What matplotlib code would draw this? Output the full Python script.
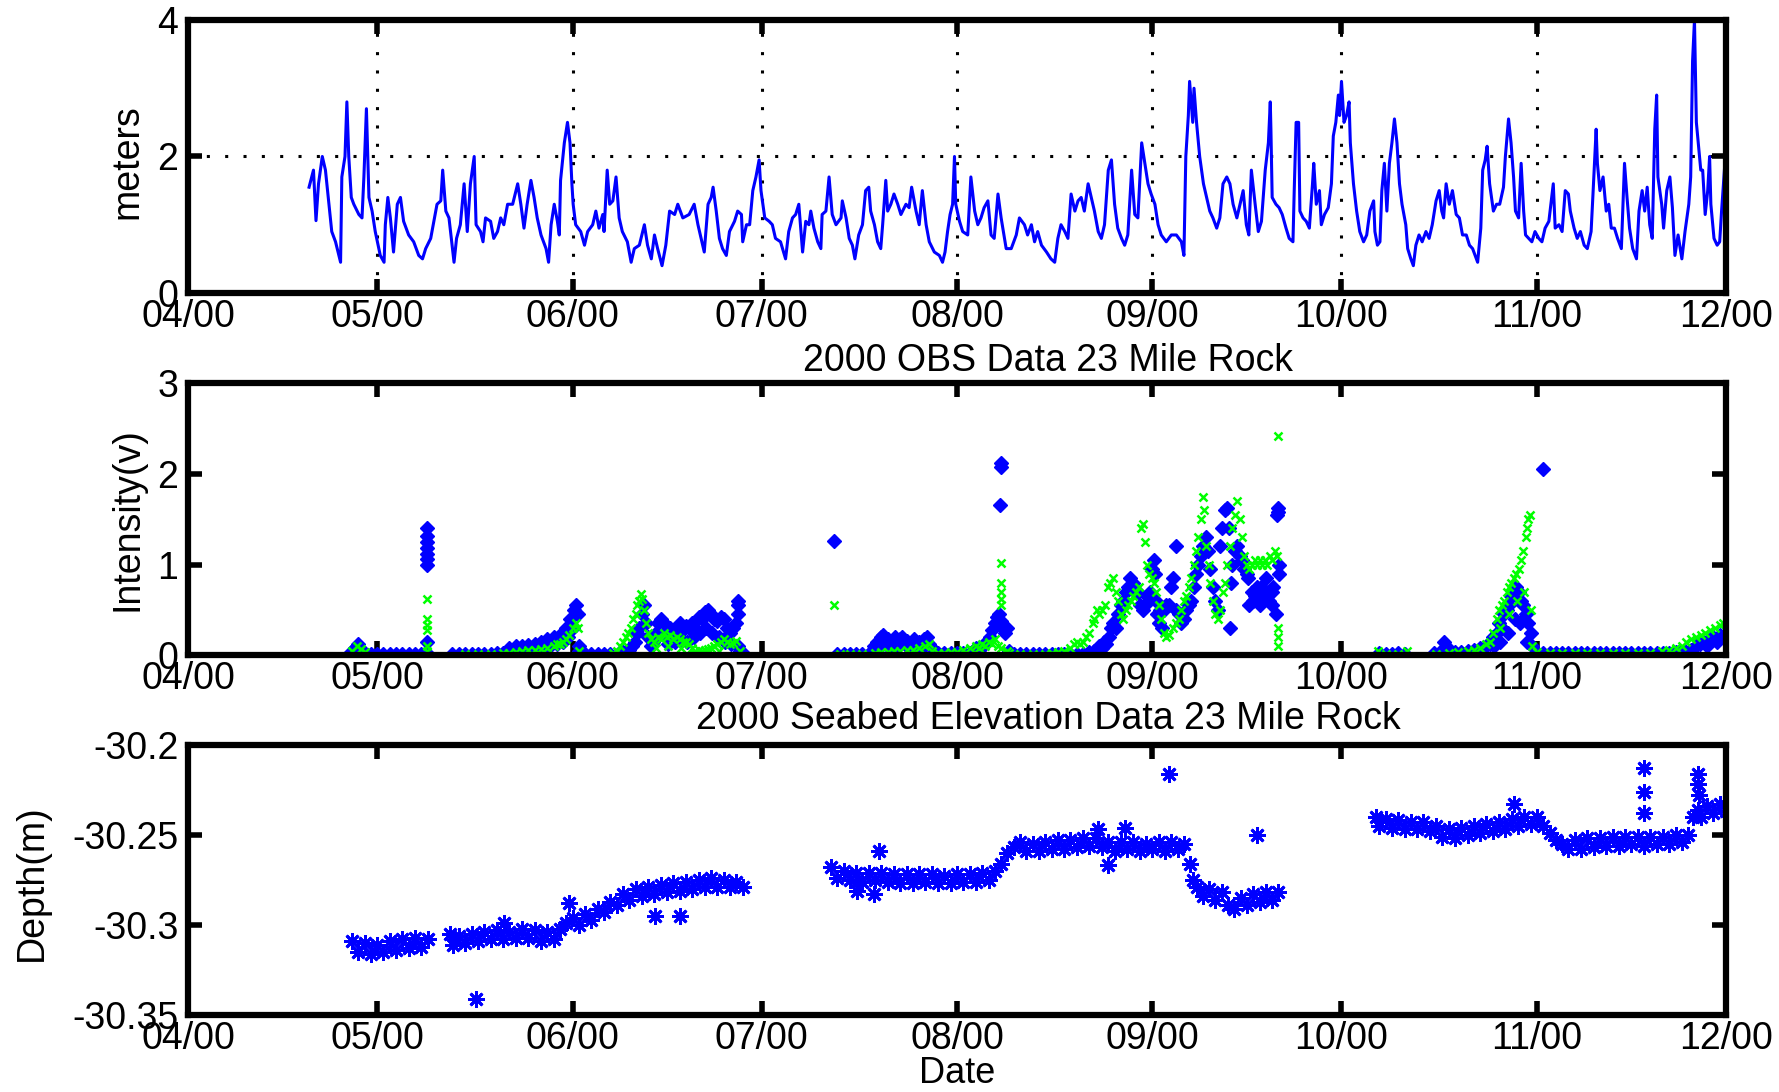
import numpy as np
import matplotlib
matplotlib.use('Agg')
import matplotlib.pyplot as plt

plt.rcParams['font.family'] = ['Liberation Sans', 'DejaVu Sans']

# x axis: days since 1 Apr 2000, ticks on the first of each month
month_days = [0, 30, 61, 91, 122, 153, 183, 214, 244]
month_labels = ['04/00', '05/00', '06/00', '07/00', '08/00', '09/00', '10/00', '11/00', '12/00']

# wave height (day, meters)
wave = np.array([
    (19.2, 1.55), (19.9, 1.8), (20.3, 1.06), (20.7, 1.6), (21.3, 2.0), (21.8, 1.8), (22.3, 1.35), (22.8, 0.9),
    (23.4, 0.75), (23.8, 0.6), (24.2, 0.45), (24.4, 1.7), (24.9, 2.0), (25.2, 2.8), (25.5, 2.0), (25.9, 1.4),
    (26.3, 1.3), (27.1, 1.15), (27.6, 1.1), (27.9, 1.7), (28.3, 2.7), (28.7, 1.4), (29.2, 1.2), (29.7, 0.9),
    (30.5, 0.55), (31.1, 0.45), (31.3, 1.0), (31.7, 1.4), (32.1, 1.1), (32.6, 0.6), (33.2, 1.3), (33.7, 1.4),
    (34.2, 1.05), (35.0, 0.85), (35.8, 0.75), (36.6, 0.55), (37.2, 0.5), (37.7, 0.65), (38.5, 0.8), (39.0, 1.05),
    (39.5, 1.3), (40.1, 1.35), (40.4, 1.8), (40.9, 1.2), (41.4, 1.1), (41.9, 0.7), (42.2, 0.45), (42.6, 0.8),
    (43.2, 1.0), (43.8, 1.6), (44.3, 0.9), (44.8, 1.6), (45.4, 2.0), (45.7, 1.0), (46.4, 0.9), (46.8, 0.75),
    (47.2, 1.1), (48.0, 1.05), (48.5, 0.8), (49.1, 0.9), (49.6, 1.1), (50.1, 1.0), (50.7, 1.3), (51.5, 1.3),
    (52.3, 1.6), (52.8, 1.3), (53.3, 0.95), (53.8, 1.3), (54.4, 1.65), (54.9, 1.4), (55.4, 1.1), (56.0, 0.85),
    (56.8, 0.65), (57.2, 0.45), (57.6, 1.0), (58.1, 1.3), (58.6, 1.05), (58.9, 0.85), (59.1, 1.65), (59.7, 2.2),
    (60.2, 2.5), (60.6, 2.2), (60.9, 1.6), (61.1, 1.3), (61.5, 1.0), (62.3, 0.9), (62.9, 0.7), (63.4, 0.9),
    (64.2, 1.0), (64.7, 1.2), (65.2, 0.95), (65.8, 1.15), (66.0, 0.9), (66.5, 1.8), (66.9, 1.3), (67.4, 1.35),
    (67.9, 1.7), (68.4, 1.1), (68.9, 0.9), (69.7, 0.75), (70.3, 0.45), (70.8, 0.65), (71.6, 0.7), (72.4, 1.0),
    (72.9, 0.7), (73.5, 0.5), (74.0, 0.85), (74.5, 0.65), (75.2, 0.4), (75.8, 0.7), (76.4, 1.2), (77.2, 1.15),
    (77.7, 1.3), (78.5, 1.1), (79.5, 1.15), (80.3, 1.3), (80.9, 1.0), (81.4, 0.8), (81.9, 0.6), (82.5, 1.3),
    (83.0, 1.4), (83.3, 1.55), (83.8, 1.2), (84.3, 0.8), (84.8, 0.65), (85.4, 0.55), (85.9, 0.9), (86.7, 1.05),
    (87.2, 1.2), (87.8, 1.15), (88.0, 0.75), (88.6, 1.0), (89.1, 1.0), (89.6, 1.5), (90.1, 1.7), (90.6, 1.95),
    (90.9, 1.5), (91.5, 1.1), (92.2, 1.05), (92.7, 1.0), (93.2, 0.8), (94.0, 0.75), (94.8, 0.5), (95.3, 0.9),
    (95.9, 1.1), (96.4, 1.15), (96.9, 1.3), (97.5, 0.6), (98.0, 1.05), (98.5, 1.0), (98.8, 1.2), (99.3, 0.95),
    (99.9, 0.75), (100.4, 0.65), (100.6, 1.15), (101.2, 1.2), (101.7, 1.7), (102.2, 1.15), (102.8, 1.0), (103.6, 1.1),
    (103.8, 1.35), (104.4, 1.1), (104.9, 0.8), (105.4, 0.7), (105.8, 0.5), (106.4, 0.85), (107.0, 1.0), (107.5, 1.5),
    (108.0, 1.55), (108.3, 1.2), (108.9, 1.0), (109.4, 0.75), (109.9, 0.65), (110.2, 1.0), (110.7, 1.65), (111.0, 1.2),
    (111.5, 1.3), (112.0, 1.45), (112.6, 1.3), (113.1, 1.15), (113.9, 1.3), (114.4, 1.25), (114.8, 1.55), (115.5, 1.2),
    (116.0, 1.0), (116.5, 1.5), (117.1, 1.0), (117.6, 0.75), (118.4, 0.6), (119.2, 0.55), (119.7, 0.45), (120.1, 0.6),
    (120.5, 0.9), (120.9, 1.15), (121.3, 1.3), (121.6, 2.0), (121.8, 1.3), (122.4, 1.05), (122.9, 0.9), (123.7, 0.85),
    (124.2, 1.7), (124.8, 1.2), (125.3, 1.0), (125.8, 1.1), (126.3, 1.25), (126.9, 1.35), (127.4, 0.85), (127.9, 0.8),
    (128.5, 1.45), (129.0, 1.1), (129.8, 0.65), (130.6, 0.65), (131.4, 0.85), (131.9, 1.1), (132.7, 1.0), (133.2, 0.85),
    (133.8, 1.0), (134.3, 0.75), (134.8, 0.9), (135.4, 0.7), (136.2, 0.6), (136.9, 0.5), (137.5, 0.45), (138.0, 0.8),
    (138.5, 1.0), (139.1, 0.9), (139.6, 0.8), (140.1, 1.45), (140.7, 1.2), (141.2, 1.35), (141.7, 1.4), (142.2, 1.2),
    (142.8, 1.6), (143.3, 1.4), (143.8, 1.2), (144.4, 0.9), (144.9, 0.8), (145.4, 1.0), (146.0, 1.8), (146.5, 1.95),
    (147.0, 1.3), (147.5, 0.95), (148.1, 0.8), (148.6, 0.7), (149.1, 0.85), (149.7, 1.8), (150.2, 1.15), (150.7, 1.1),
    (151.3, 2.2), (151.8, 1.9), (152.3, 1.6), (152.8, 1.45), (153.4, 1.3), (153.9, 1.0), (154.4, 0.85), (155.2, 0.75),
    (156.0, 0.85), (156.8, 0.85), (157.6, 0.75), (158.0, 0.55), (158.3, 2.0), (158.7, 2.6), (158.9, 3.1), (159.4, 2.5),
    (159.6, 3.0), (160.0, 2.5), (160.5, 2.0), (161.1, 1.6), (161.6, 1.4), (162.1, 1.2), (162.6, 1.1), (163.2, 0.95),
    (163.7, 1.1), (164.2, 1.6), (164.8, 1.7), (165.3, 1.6), (165.8, 1.3), (166.4, 1.1), (166.9, 1.3), (167.4, 1.5),
    (167.9, 1.0), (168.3, 0.85), (168.7, 1.8), (169.3, 1.3), (169.8, 0.9), (170.3, 1.05), (170.9, 1.8), (171.4, 2.2),
    (171.7, 2.8), (171.8, 2.4), (172.0, 1.4), (172.6, 1.3), (173.1, 1.25), (173.6, 1.15), (174.2, 0.95), (174.7, 0.8),
    (175.3, 0.75), (175.5, 1.5), (175.8, 2.5), (176.2, 2.5), (176.4, 1.2), (176.9, 1.1), (177.4, 1.05), (177.9, 0.95),
    (178.4, 1.6), (178.6, 1.9), (179.0, 1.3), (179.5, 1.5), (179.8, 1.0), (180.3, 1.15), (180.9, 1.25), (181.4, 1.6),
    (181.7, 2.3), (182.1, 2.5), (182.5, 2.9), (182.7, 2.6), (183.0, 3.1), (183.4, 2.5), (183.8, 2.6), (184.2, 2.8),
    (184.4, 2.2), (184.9, 1.6), (185.4, 1.2), (185.9, 0.9), (186.5, 0.75), (187.0, 0.85), (187.5, 1.2), (188.1, 1.35),
    (188.3, 0.9), (188.7, 0.7), (189.1, 0.75), (189.4, 1.5), (189.8, 1.9), (190.2, 1.2), (190.6, 1.9), (191.0, 2.2),
    (191.4, 2.55), (191.8, 2.2), (192.2, 1.6), (192.6, 1.3), (193.2, 1.0), (193.5, 0.65), (194.0, 0.5), (194.4, 0.4),
    (194.8, 0.7), (195.3, 0.85), (195.8, 0.75), (196.4, 0.9), (196.9, 0.8), (197.4, 1.0), (198.0, 1.35), (198.5, 1.5),
    (198.9, 1.2), (199.2, 1.1), (199.6, 1.6), (200.1, 1.3), (200.6, 1.5), (201.2, 1.15), (201.7, 1.1), (202.2, 0.85),
    (202.8, 0.85), (203.3, 0.7), (203.8, 0.65), (204.2, 0.55), (204.6, 0.45), (205.1, 0.95), (205.4, 1.8), (205.8, 1.95),
    (206.1, 2.15), (206.5, 1.6), (207.1, 1.2), (207.6, 1.3), (208.1, 1.3), (208.7, 1.55), (209.0, 2.0), (209.5, 2.55),
    (209.9, 2.2), (210.3, 1.7), (210.6, 1.2), (211.1, 1.1), (211.5, 1.9), (211.9, 1.2), (212.2, 0.85), (212.7, 0.8),
    (213.2, 0.75), (213.7, 0.9), (214.3, 0.8), (214.8, 0.75), (215.3, 0.95), (215.9, 1.05), (216.6, 1.6), (216.9, 0.95),
    (217.5, 1.0), (218.0, 0.9), (218.5, 1.5), (219.0, 1.45), (219.3, 1.2), (219.9, 0.95), (220.4, 0.8), (220.9, 0.9),
    (221.5, 0.7), (222.0, 0.65), (222.6, 0.9), (222.9, 1.45), (223.4, 2.4), (223.6, 1.9), (224.0, 1.5), (224.5, 1.7),
    (225.0, 1.2), (225.4, 1.3), (225.8, 0.95), (226.3, 0.95), (226.8, 0.8), (227.4, 0.65), (227.9, 1.9), (228.3, 1.4),
    (228.7, 0.95), (229.2, 0.65), (229.8, 0.5), (230.2, 1.2), (230.7, 1.5), (231.1, 1.2), (231.5, 1.55), (231.9, 1.0),
    (232.3, 0.8), (232.7, 2.4), (233.0, 2.9), (233.2, 1.7), (233.8, 1.3), (234.1, 0.95), (234.6, 1.5), (235.1, 1.7),
    (235.5, 1.25), (235.9, 0.55), (236.4, 0.85), (237.0, 0.5), (237.5, 0.9), (238.1, 1.3), (238.4, 1.7), (238.7, 3.4),
    (239.0, 4.0), (239.3, 2.5), (239.7, 2.1), (240.0, 1.8), (240.3, 1.8), (240.7, 1.15), (241.1, 1.5), (241.4, 2.0),
    (241.6, 1.3), (242.1, 0.8), (242.6, 0.7), (243.0, 0.75), (243.3, 1.2), (243.9, 2.0),
])

# OBS sensor 1 (blue diamonds), (day, volts)
obs_blue = np.array([
    (25.9, 0.03), (26.5, 0.08), (27.0, 0.12), (27.5, 0.06), (28.0, 0.02), (29, 0.01), (30, 0.01), (31, 0.01),
    (32, 0.01), (33, 0.01), (34, 0.01), (35, 0.01), (36, 0.01), (37, 0.01),
    (37.9, 0.02), (37.9, 0.15), (37.9, 1.0), (37.9, 1.06), (37.9, 1.12), (37.9, 1.18), (37.9, 1.25), (37.9, 1.32), (37.9, 1.4),
    (41.8, 0.01), (43, 0.01), (44, 0.01), (45, 0.01), (46, 0.01), (47, 0.01), (48, 0.01), (49, 0.02), (50, 0.02),
    (50.5, 0.03), (51, 0.08), (51.5, 0.04), (52, 0.1), (52.5, 0.05), (53, 0.1), (53.5, 0.06), (54, 0.11),
    (54.5, 0.06), (55, 0.12), (55.5, 0.07), (56, 0.15), (56.5, 0.09), (57, 0.18), (57.5, 0.1), (58, 0.2),
    (58.5, 0.12), (59, 0.22), (59.5, 0.15), (60, 0.3), (60.3, 0.2), (60.6, 0.4), (61, 0.3), (61.3, 0.5),
    (61.6, 0.55), (61.8, 0.45), (62.0, 0.1), (62.1, 0.05),
    (63, 0.01), (64, 0.01), (65, 0.01), (66, 0.01), (67, 0.01),
    (68.4, 0.02), (69, 0.04), (69.9, 0.06), (70.5, 0.1), (70.9, 0.15), (71.3, 0.25), (71.6, 0.3), (72.0, 0.45),
    (72.4, 0.55), (72.7, 0.35), (73.0, 0.2), (73.4, 0.1), (73.8, 0.15), (74.2, 0.25), (74.6, 0.35), (75.0, 0.4),
    (75.2, 0.38), (75.5, 0.25), (76.0, 0.2), (76.5, 0.3), (77.0, 0.25), (77.5, 0.3), (78.0, 0.35), (78.5, 0.28),
    (79.0, 0.32), (79.5, 0.3), (80.0, 0.35), (80.5, 0.3), (81.0, 0.42), (81.5, 0.4), (82.0, 0.48), (82.5, 0.5),
    (83.0, 0.45), (83.5, 0.4), (84.0, 0.38), (84.5, 0.42), (85.0, 0.4), (85.5, 0.3), (86.0, 0.25), (86.5, 0.3),
    (87.0, 0.35), (87.2, 0.45), (87.2, 0.55), (87.2, 0.6), (87.3, 0.1), (87.6, 0.05), (88.0, 0.02),
    (76.2, 0.12), (77.3, 0.15), (78.2, 0.18), (79.2, 0.15), (80.2, 0.2), (81.2, 0.25), (82.2, 0.3), (83.2, 0.25),
    (84.2, 0.2), (85.2, 0.15), (86.2, 0.12),
    (102.5, 1.26),
    (103, 0.01), (104, 0.01), (105, 0.01), (106, 0.01), (107, 0.01), (108, 0.01),
    (108.5, 0.05), (108.9, 0.1), (109.3, 0.15), (109.7, 0.08), (110.0, 0.2), (110.3, 0.22), (110.7, 0.12), (111.0, 0.18),
    (111.4, 0.08), (111.7, 0.15), (112.1, 0.2), (112.5, 0.1), (112.9, 0.18), (113.3, 0.2), (113.7, 0.12), (114.1, 0.16),
    (114.5, 0.07), (114.9, 0.15), (115.2, 0.18), (115.6, 0.1), (116.0, 0.15), (116.4, 0.08), (116.8, 0.18), (117.2, 0.2),
    (117.6, 0.12), (118.0, 0.08), (118.4, 0.03),
    (119, 0.02), (120, 0.02), (121, 0.02), (122, 0.02), (123, 0.02), (124, 0.02),
    (124.5, 0.05), (125.0, 0.08), (125.5, 0.06), (126.0, 0.1), (126.5, 0.12), (127.0, 0.18), (127.3, 0.2), (127.6, 0.28),
    (128.0, 0.35), (128.4, 0.42), (128.7, 0.45), (129.0, 0.38), (129.3, 0.3), (129.6, 0.25), (129.9, 0.3), (130.2, 0.05),
    (128.8, 1.66), (129.0, 2.08), (129.0, 2.12),
    (131, 0.01), (132, 0.01), (133, 0.01), (134, 0.01), (135, 0.01), (136, 0.01), (137, 0.01), (138, 0.01),
    (139, 0.01), (140, 0.01), (141, 0.01), (142, 0.01),
    (143.0, 0.03), (143.8, 0.05), (144.5, 0.1), (145.0, 0.08), (145.3, 0.15), (145.7, 0.12), (146.1, 0.2), (146.5, 0.3),
    (146.8, 0.35), (147.2, 0.3), (147.6, 0.45), (148.0, 0.55), (148.4, 0.6), (148.8, 0.7), (149.2, 0.75), (149.5, 0.85),
    (149.9, 0.8), (150.3, 0.7), (150.7, 0.7), (151.1, 0.55), (151.5, 0.5), (151.8, 0.55), (152.2, 0.65), (152.6, 0.7),
    (153.0, 0.95), (153.2, 1.05), (153.4, 0.9), (153.6, 0.6), (153.8, 0.45), (154.0, 0.35), (154.2, 0.5), (154.5, 0.3),
    (154.8, 0.5), (155.2, 0.55), (155.7, 0.55), (156.0, 0.75), (156.3, 0.85), (156.7, 1.2), (156.8, 0.5), (157.2, 0.45),
    (157.6, 0.35), (158.0, 0.4), (158.4, 0.5), (158.8, 0.55), (159.2, 0.6), (159.6, 0.75), (159.9, 0.9), (160.3, 1.0),
    (160.7, 1.1), (161.1, 1.2), (161.5, 1.3), (161.8, 1.15), (162.2, 0.95), (162.6, 0.75), (163.0, 0.6), (163.4, 0.5),
    (163.8, 1.2), (164.1, 1.4), (164.5, 1.6), (164.9, 1.62), (165.1, 1.4), (165.3, 0.3), (165.5, 0.8), (165.7, 1.0),
    (166.1, 1.15), (166.5, 1.2), (166.9, 1.1), (167.2, 1.05), (167.6, 0.95), (168.0, 0.9), (168.4, 0.55), (168.8, 0.7),
    (169.2, 0.65), (169.6, 0.75), (169.9, 0.7), (170.3, 0.75), (170.7, 0.65), (171.1, 0.7), (171.5, 0.6), (171.9, 0.7),
    (172.2, 0.75), (172.6, 0.45), (172.8, 1.55), (172.9, 1.62), (173.0, 1.58), (173.1, 1.0), (173.1, 0.9),
    (168.2, 0.85), (169.0, 0.6), (170.0, 0.55), (171.0, 0.85), (172.0, 0.55),
    (189, 0.02), (190, 0.01), (191, 0.01), (192, 0.02), (193, 0.01),
    (197.6, 0.02), (198.5, 0.02), (199.2, 0.15), (199.6, 0.1), (200.0, 0.05), (201, 0.03), (202, 0.04), (203, 0.05),
    (204, 0.06), (205, 0.08), (206, 0.1), (206.5, 0.12), (207, 0.2), (207.6, 0.25), (208, 0.35), (208.4, 0.3),
    (208.8, 0.45), (209.2, 0.5), (209.6, 0.55), (209.9, 0.65), (210.3, 0.7), (210.7, 0.75), (211.1, 0.7), (211.5, 0.6),
    (211.8, 0.55), (212.2, 0.45), (212.6, 0.35), (213.0, 0.25), (213.3, 0.1), (214.0, 0.02),
    (207.2, 0.1), (208.2, 0.15), (209.4, 0.25), (210.5, 0.4), (211.3, 0.35), (212.4, 0.15),
    (214.9, 2.05),
    (215, 0.02), (216, 0.02), (217, 0.02), (218, 0.02), (219, 0.02), (220, 0.02), (221, 0.02), (222, 0.02),
    (223, 0.02), (224, 0.02), (225, 0.02), (226, 0.02), (227, 0.02), (228, 0.02), (229, 0.02), (230, 0.02),
    (231, 0.02), (232, 0.02), (233, 0.02), (234, 0.02), (235, 0.02), (236, 0.03),
    (236.5, 0.04), (237.5, 0.05), (238.5, 0.06), (239.2, 0.1), (239.8, 0.12), (240.5, 0.15), (241.0, 0.1), (241.5, 0.18),
    (242.0, 0.2), (242.5, 0.15), (243.0, 0.22), (243.5, 0.2), (244.0, 0.2),
])

# OBS sensor 2 (green crosses), (day, volts)
obs_green = np.array([
    (26.0, 0.05), (26.8, 0.1), (27.4, 0.07), (28.0, 0.03),
    (37.9, 0.05), (37.9, 0.1), (37.9, 0.28), (37.9, 0.33), (37.9, 0.4), (37.9, 0.62),
    (44, 0.01), (46, 0.01), (48, 0.01), (50, 0.02),
    (51, 0.02), (52, 0.04), (53, 0.05), (54, 0.06), (55, 0.06), (56, 0.07), (57, 0.08), (58, 0.1),
    (58.5, 0.12), (59, 0.12), (59.5, 0.15), (60, 0.18), (60.5, 0.22), (61, 0.3), (61.5, 0.35), (61.8, 0.3), (62, 0.05),
    (67.5, 0.02), (68, 0.05), (68.5, 0.1), (69, 0.15), (69.5, 0.2), (69.8, 0.25), (70.2, 0.3), (70.6, 0.4),
    (71.0, 0.45), (71.3, 0.55), (71.6, 0.6), (71.9, 0.68), (72.1, 0.62), (72.4, 0.5), (72.7, 0.35), (73.0, 0.25),
    (73.4, 0.18), (74.0, 0.15), (74.5, 0.2), (75.0, 0.18), (75.5, 0.25), (76.0, 0.2), (76.5, 0.22), (77.0, 0.18),
    (77.5, 0.2), (78.0, 0.18), (78.5, 0.15), (79.0, 0.15), (79.5, 0.12), (80.0, 0.08), (80.5, 0.05), (81.0, 0.06),
    (81.5, 0.05), (82.0, 0.06), (82.5, 0.07), (83.0, 0.08), (83.5, 0.1), (84.0, 0.12), (84.5, 0.15), (85.0, 0.18),
    (85.5, 0.15), (86.0, 0.12), (86.5, 0.14), (87.0, 0.16), (87.5, 0.05),
    (74.2, 0.08), (76.2, 0.1), (78.2, 0.08), (80.2, 0.02), (82.2, 0.02), (84.2, 0.05),
    (102.5, 0.55),
    (103.5, 0.01), (105, 0.01), (107, 0.01),
    (109, 0.02), (110, 0.03), (111, 0.04), (112, 0.05), (113, 0.05), (114, 0.06), (115, 0.06), (116, 0.08),
    (117, 0.1), (117.5, 0.12), (118, 0.05),
    (119, 0.02), (120, 0.02), (121, 0.03), (122, 0.04), (123, 0.06), (124, 0.08), (125, 0.1), (125.5, 0.08),
    (126, 0.12), (126.5, 0.1), (127, 0.15), (127.5, 0.12), (128, 0.18), (128.5, 0.1), (129, 0.08),
    (128.9, 0.55), (128.9, 0.62), (129.0, 0.7), (129.0, 0.8), (129.0, 1.02),
    (129.9, 0.05), (130.3, 0.02), (132, 0.01), (134, 0.01), (136, 0.01),
    (137.0, 0.02), (138, 0.03), (139, 0.05), (140, 0.08), (140.5, 0.12), (141, 0.15), (141.5, 0.12), (142.0, 0.15),
    (142.5, 0.2), (143.0, 0.25), (143.5, 0.35), (143.8, 0.4), (144.2, 0.5), (144.5, 0.45), (145.0, 0.5), (145.5, 0.55),
    (146.0, 0.75), (146.3, 0.8), (146.8, 0.85), (147.2, 0.7), (147.6, 0.6), (148.0, 0.45), (148.4, 0.4), (148.8, 0.5),
    (149.2, 0.55), (149.6, 0.6), (150.0, 0.65), (150.4, 0.7), (150.8, 0.75), (151.2, 1.4), (151.5, 1.45), (151.8, 1.25),
    (152.2, 1.0), (152.5, 0.9), (152.9, 0.85), (153.2, 0.8), (153.6, 0.7), (154.0, 0.55), (154.4, 0.4), (154.8, 0.25),
    (155.2, 0.2), (155.7, 0.22), (156.2, 0.3), (156.7, 0.35), (157.2, 0.4), (157.6, 0.5), (158.0, 0.6), (158.4, 0.65),
    (158.8, 0.75), (159.2, 0.85), (159.6, 1.0), (159.9, 1.15), (160.3, 1.3), (160.7, 1.5), (161.0, 1.75), (161.2, 1.6),
    (161.5, 1.2), (161.9, 1.0), (162.2, 0.8), (162.6, 0.6), (163.0, 0.45), (163.4, 0.4), (163.8, 0.5), (164.2, 0.7),
    (164.5, 0.8), (164.9, 1.0), (165.3, 1.2), (165.7, 1.4), (166.1, 1.55), (166.5, 1.7), (166.9, 1.5), (167.2, 1.3),
    (167.6, 1.1), (168.0, 1.0), (168.4, 0.95), (168.8, 1.0), (169.2, 1.05), (169.6, 1.0), (170.0, 1.05), (170.4, 1.0),
    (170.8, 1.05), (171.2, 1.0), (171.6, 1.1), (172.0, 1.05), (172.4, 1.15), (172.8, 1.1), (173.0, 2.42),
    (172.9, 0.3), (172.9, 0.2), (172.9, 0.1),
    (188.8, 0.05), (190, 0.01), (192, 0.01), (193.4, 0.05),
    (198, 0.01), (200, 0.02), (201.5, 0.03), (203, 0.05), (204, 0.06), (205, 0.08), (206, 0.12), (206.5, 0.15),
    (207, 0.25), (207.6, 0.4), (208, 0.5), (208.4, 0.55), (208.8, 0.6), (209.2, 0.7), (209.5, 0.75), (209.9, 0.8),
    (210.3, 0.85), (210.7, 0.9), (211.1, 0.95), (211.5, 1.05), (211.8, 1.15), (212.2, 1.3), (212.4, 1.4), (212.6, 1.5),
    (212.9, 1.55), (213.1, 0.5), (213.3, 0.1), (214, 0.03),
    (208.2, 0.3), (209.6, 0.45), (210.8, 0.6), (211.9, 0.7),
    (216, 0.02), (218, 0.02), (220, 0.02), (222, 0.02), (224, 0.02), (226, 0.02), (228, 0.02), (230, 0.02), (232, 0.02),
    (233.8, 0.05), (235, 0.06), (236, 0.08), (237, 0.1), (237.6, 0.15), (238.5, 0.18), (239.2, 0.2), (240, 0.22),
    (240.7, 0.25), (241.5, 0.28), (242.2, 0.3), (243, 0.33), (243.6, 0.35),
])

# seabed elevation (day, depth in m)
depth = np.array([
    (26, -30.309), (27, -30.315), (28, -30.310), (29, -30.316), (30, -30.311), (31, -30.315), (32, -30.309),
    (33, -30.314), (34, -30.308), (35, -30.313), (36, -30.307), (37, -30.312), (38, -30.308),
    (41.5, -30.305), (42, -30.311), (43, -30.306), (44, -30.310), (45, -30.305), (46, -30.309), (47, -30.304),
    (48, -30.308), (49, -30.303), (50, -30.308), (51, -30.304), (52, -30.307), (53, -30.302), (54, -30.307),
    (55, -30.303), (56, -30.309), (57, -30.304), (58, -30.308),
    (59, -30.302), (60, -30.299), (60.5, -30.288), (61, -30.296), (62, -30.300), (63, -30.294), (64, -30.297),
    (65, -30.291), (66, -30.293), (67, -30.287), (68, -30.289), (69, -30.283), (70, -30.286),
    (71, -30.280), (72, -30.284), (73, -30.279), (74, -30.283), (75, -30.278), (76, -30.282), (77, -30.277),
    (78, -30.281), (79, -30.276), (80, -30.280), (81, -30.275), (82, -30.279), (83, -30.274), (84, -30.279),
    (85, -30.275), (86, -30.279), (87, -30.276), (88, -30.279),
    (45.7, -30.341), (50.2, -30.299), (74.1, -30.295), (78.1, -30.295),
    (102, -30.268), (103, -30.274), (104, -30.270), (105, -30.275), (106, -30.271), (107, -30.276), (108, -30.271),
    (109, -30.275), (109.7, -30.259), (110, -30.271), (111, -30.276), (112, -30.272), (113, -30.277), (114, -30.272),
    (115, -30.277), (116, -30.272), (117, -30.276), (118, -30.272), (119, -30.277), (120, -30.273), (121, -30.277),
    (122, -30.272), (123, -30.276), (124, -30.272), (125, -30.276), (126, -30.271), (127, -30.275), (128, -30.270),
    (106.1, -30.281), (108.8, -30.283),
    (129, -30.266), (130, -30.260), (131, -30.257),
    (132, -30.254), (133, -30.259), (134, -30.255), (135, -30.259), (136, -30.254), (137, -30.258), (138, -30.253),
    (139, -30.258), (140, -30.253), (141, -30.257), (142, -30.252), (143, -30.256), (144, -30.252), (145, -30.257),
    (146, -30.254), (147, -30.259), (148, -30.254), (149, -30.258), (150, -30.254), (151, -30.259), (152, -30.255),
    (153, -30.258), (154, -30.254), (155, -30.259), (156, -30.254), (157, -30.258), (158, -30.255),
    (144.3, -30.247), (146, -30.267), (148.6, -30.246), (155.7, -30.216),
    (159, -30.266), (159.5, -30.275), (160, -30.279), (161, -30.284), (162, -30.280), (163, -30.286), (164, -30.282),
    (165, -30.289), (166, -30.291), (167, -30.285), (168, -30.289), (169, -30.283), (170, -30.287), (171, -30.282),
    (172, -30.286), (173, -30.282), (169.6, -30.250),
    (188.5, -30.240), (189, -30.245), (190, -30.241), (191, -30.246), (192, -30.242), (193, -30.247), (194, -30.243),
    (195, -30.247), (196, -30.243), (197, -30.248), (198, -30.245), (199, -30.251), (200, -30.247), (201, -30.252),
    (202, -30.246), (203, -30.250), (204, -30.245), (205, -30.249), (206, -30.244), (207, -30.248), (208, -30.243),
    (209, -30.247), (210, -30.241), (210.4, -30.233), (211, -30.245), (212, -30.240), (213, -30.244), (214, -30.240),
    (215, -30.245), (216, -30.249), (217, -30.253), (218, -30.255), (219, -30.258), (220, -30.253), (221, -30.258),
    (222, -30.252), (223, -30.257), (224, -30.252), (225, -30.256), (226, -30.251), (227, -30.256), (228, -30.251),
    (229, -30.255), (230, -30.251), (231, -30.256), (232, -30.251), (233, -30.255), (234, -30.251), (235, -30.255),
    (236, -30.250), (237, -30.254), (238, -30.250), (238.8, -30.240), (239.5, -30.236), (240, -30.240),
    (241, -30.234), (242, -30.238), (243, -30.233), (244, -30.237),
    (231, -30.213), (231, -30.226), (231, -30.238), (239.5, -30.216), (239.5, -30.222), (239.7, -30.228),
])

fig = plt.figure(figsize=(17.79, 10.92), dpi=100)
ax1 = fig.add_axes([0.1057, 0.7317, 0.8645, 0.250])
ax2 = fig.add_axes([0.1057, 0.4000, 0.8645, 0.249])
ax3 = fig.add_axes([0.1057, 0.0705, 0.8645, 0.2475])

ax1.plot(wave[:, 0], wave[:, 1], color='#0000ff', lw=2.2)
ax1.set_ylim(0, 4)
ax1.set_yticks([0, 2, 4])
ax1.grid(True, color='k', linestyle=(0, (1, 5)), lw=2.2)
ax1.set_axisbelow(True)

ax2.plot(obs_blue[:, 0], obs_blue[:, 1], 'D', color='#0000ff', ms=7.5, mec='#0000ff')
ax2.plot(obs_green[:, 0], obs_green[:, 1], 'x', color='#00ff00', ms=6, mew=1.8)
ax2.set_ylim(0, 3)
ax2.set_yticks([0, 1, 2, 3])

ax3.plot(depth[:, 0], depth[:, 1], ls='none', marker=(8, 2, 0), color='#0000ff', ms=12, mew=2)
ax3.set_ylim(-30.35, -30.2)
ax3.set_yticks([-30.35, -30.3, -30.25, -30.2])
ax3.set_yticklabels(['-30.35', '-30.3', '-30.25', '-30.2'])

for ax in (ax1, ax2, ax3):
    ax.set_xlim(0, 244)
    ax.set_xticks(month_days)
    ax.set_xticklabels(month_labels)
    ax.tick_params(direction='in', length=10, width=4, top=True, right=True,
                   labelsize=27, pad=7)
    ax.tick_params(axis='x', pad=4)
    for sp in ax.spines.values():
        sp.set_linewidth(4.5)

fig.text(0.589, 0.660, '2000 OBS Data 23 Mile Rock', ha='center', va='baseline', fontsize=27)
fig.text(0.589, 0.332, '2000 Seabed Elevation Data 23 Mile Rock', ha='center', va='baseline', fontsize=27)
fig.text(0.538, 0.008, 'Date', ha='center', va='baseline', fontsize=26)
fig.text(0.0714, 0.852, 'meters', rotation=90, ha='center', va='center', fontsize=27)
fig.text(0.0714, 0.525, 'Intensity(v)', rotation=90, ha='center', va='center', fontsize=27)
fig.text(0.018, 0.192, 'Depth(m)', rotation=90, ha='center', va='center', fontsize=27)

fig.savefig('out.png', dpi=100)
